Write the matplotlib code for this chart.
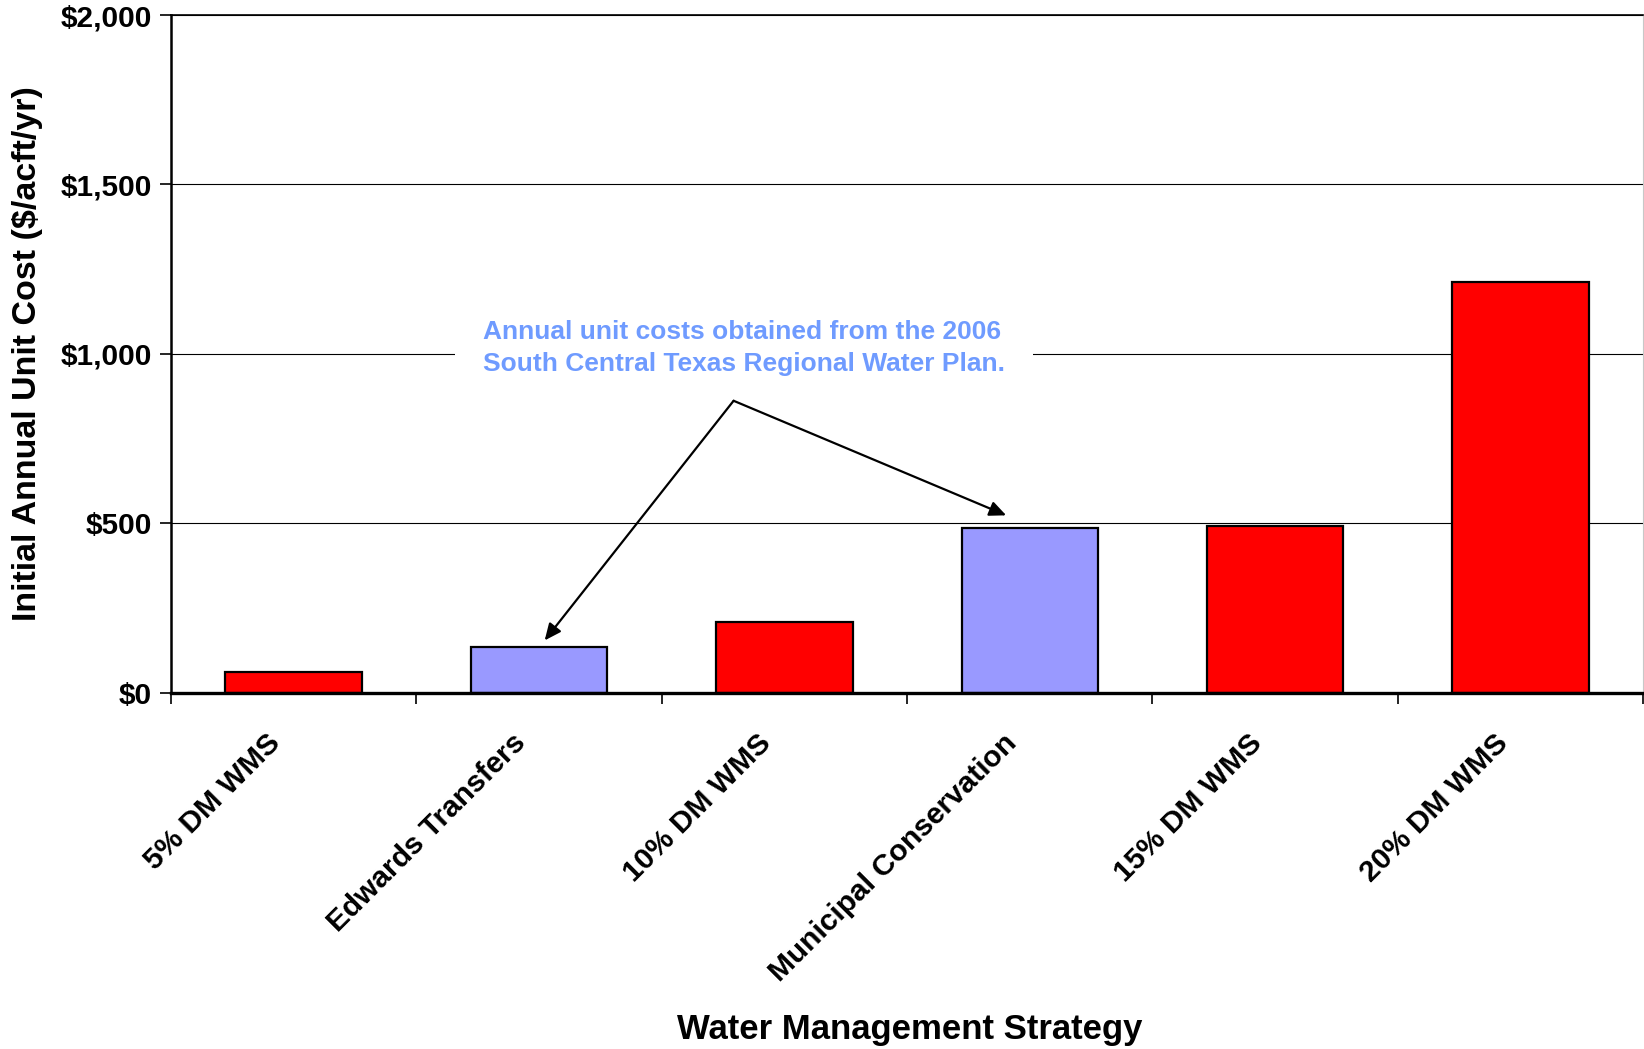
import matplotlib.pyplot as plt

# unit costs by water management strategy ($/acft/yr)
strategies = ["5% DM WMS", "Edwards Transfers", "10% DM WMS",
              "Municipal Conservation", "15% DM WMS", "20% DM WMS"]
unit_costs = [61, 136, 210, 486, 493, 1213]
from_regional_plan = [False, True, False, True, False, False]

y_ticks = [0, 500, 1000, 1500, 2000]
y_tick_labels = ["$0", "$500", "$1,000", "$1,500", "$2,000"]

note = "Annual unit costs obtained from the 2006\nSouth Central Texas Regional Water Plan."

plt.rcParams['font.family'] = ['Liberation Sans', 'DejaVu Sans']
plt.rcParams['font.weight'] = 'bold'

fig = plt.figure(figsize=(16.44, 10.49), dpi=100)
ax = fig.add_axes([0.104, 0.3394, 0.8955, 0.6463])

colors = ['#9999FF' if p else '#FF0000' for p in from_regional_plan]
x = list(range(len(strategies)))
ax.bar(x, unit_costs, width=0.556, color=colors, edgecolor='black', linewidth=1.6, zorder=3)

ax.set_xlim(-0.5, len(strategies) - 0.5)
ax.set_ylim(0, 2000)

# gridlines
ax.set_yticks(y_ticks)
ax.set_yticklabels(y_tick_labels, fontsize=21.5, fontweight='bold')
ax.yaxis.grid(True, color='black', linewidth=0.8, zorder=0)
ax.tick_params(axis='y', direction='out', length=8, width=1.2, pad=6)

# category ticks sit between bars
ax.set_xticks([i - 0.5 for i in range(len(strategies) + 1)])
ax.set_xticklabels([])
ax.tick_params(axis='x', direction='out', length=8, width=1.2)

for i, name in enumerate(strategies):
    ax.text(i - 0.07, -135, name, rotation=45, rotation_mode='anchor',
            ha='right', va='center', fontsize=21.5, fontweight='bold')

ax.spines['left'].set_linewidth(1.8)
ax.spines['bottom'].set_linewidth(2.4)
ax.spines['bottom'].set_zorder(4)
ax.spines['top'].set_linewidth(1.2)
ax.spines['right'].set_linewidth(0.8)
ax.spines['right'].set_color('#c8c8c8')

ax.set_ylabel("Initial Annual Unit Cost ($/acft/yr)", fontsize=24.5, fontweight='bold', labelpad=12)
fig.text(0.5536, 0.0185, "Water Management Strategy", ha='center', va='center',
         fontsize=25, fontweight='bold')

# annotation with arrows to the two regional plan bars
ax.text(0.771, 1017, note, ha='left', va='center', fontsize=19, fontweight='bold',
        color='#6F9BFF', linespacing=1.42, zorder=5,
        bbox=dict(facecolor='white', edgecolor='none', pad=20))
arrow = dict(arrowstyle='-|>,head_length=1.0,head_width=0.45', color='black', lw=1.6,
             shrinkA=0, shrinkB=0)
ax.annotate("", xy=(1.023, 155), xytext=(1.793, 862), arrowprops=arrow, zorder=6)
ax.annotate("", xy=(2.904, 524), xytext=(1.793, 862), arrowprops=arrow, zorder=6)

fig.savefig("out.png", dpi=100)
plt.close()
